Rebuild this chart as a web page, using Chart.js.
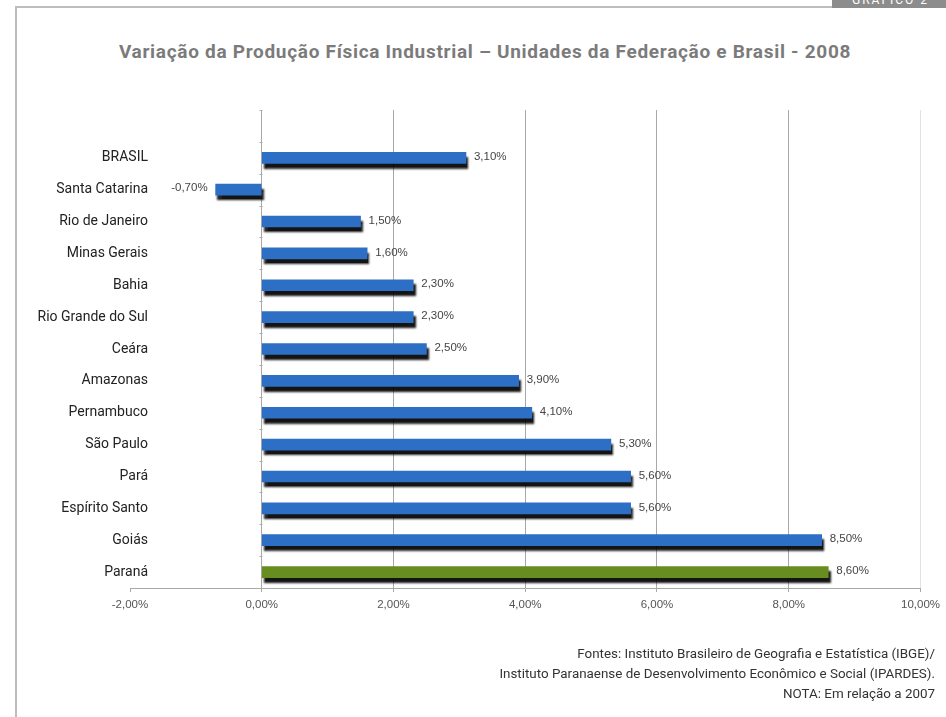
<!DOCTYPE html>
<html lang="pt-BR">
<head>
<meta charset="utf-8">
<title>Variação da Produção Física Industrial - 2008</title>
<script src="https://cdn.jsdelivr.net/npm/chart.js@4.4.1/dist/chart.umd.min.js"></script>
<style>
  html, body { margin: 0; padding: 0; background: #fff; }
  #wrap { position: relative; width: 946px; height: 717px; overflow: hidden; }
  #frameTop { position: absolute; left: 15px; top: 6px; width: 818px; height: 2px; background: #bdbdbd; }
  #frameLeft { position: absolute; left: 15px; top: 6px; width: 2px; height: 711px; background: #bdbdbd; }
  #tab { position: absolute; left: 832px; top: 0; width: 114px; height: 8px; background: #8c8c8c; overflow: hidden; }
  #tab span { position: absolute; left: 20px; top: -7px; color: #fff; font: 12px Roboto, sans-serif; letter-spacing: 2px; }
  #title { position: absolute; left: 0; width: 970px; top: 40px; text-align: center;
           font: bold 19px Roboto, sans-serif; color: #7b7b7b; letter-spacing: 0.7px; }
  #notes { position: absolute; right: 11px; top: 644px; text-align: right;
           font: 13.4px Roboto, sans-serif; color: #333; line-height: 20px; }
  canvas { position: absolute; left: 0; top: 0; }
</style>
</head>
<body>
<div id="wrap">
  <div id="frameTop"></div>
  <div id="frameLeft"></div>
  <div id="tab"><span>GRÁFICO 2</span></div>
  <div id="title">Variação da Produção Física Industrial – Unidades da Federação e Brasil - 2008</div>
  <canvas id="chart" width="946" height="717"></canvas>
  <div id="notes">
    Fontes: Instituto Brasileiro de Geografia e Estatística (IBGE)/<br>
    Instituto Paranaense de Desenvolvimento Econômico e Social (IPARDES).<br>
    NOTA: Em relação a 2007
  </div>
</div>
<script>
// categories top to bottom (first slot is empty in the original chart)
const states = ['', 'BRASIL', 'Santa Catarina', 'Rio de Janeiro', 'Minas Gerais', 'Bahia',
  'Rio Grande do Sul', 'Ceára', 'Amazonas', 'Pernambuco', 'São Paulo', 'Pará',
  'Espírito Santo', 'Goiás', 'Paraná'];
const variation = [null, 3.1, -0.7, 1.5, 1.6, 2.3, 2.3, 2.5, 3.9, 4.1, 5.3, 5.6, 5.6, 8.5, 8.6];
const xTicks = [-2, 0, 2, 4, 6, 8, 10];

const BLUE = '#2d6fc4';
const GREEN = '#678c1f';
const barColors = states.map(s => s === 'Paraná' ? GREEN : BLUE);

const fmt = v => v.toFixed(2).replace('.', ',') + '%';

// dark drop shadow under each bar, like the Excel original
const shadowPlugin = {
  id: 'barShadow',
  beforeDatasetsDraw(chart) {
    const ctx = chart.ctx;
    ctx.save();
    ctx.shadowColor = 'rgba(0,0,0,0.92)';
    ctx.shadowOffsetX = 2;
    ctx.shadowOffsetY = 5;
    ctx.shadowBlur = 2;
  },
  afterDatasetsDraw(chart) {
    chart.ctx.restore();
  }
};

// category names, value labels and small ticks on the zero line
const labelPlugin = {
  id: 'valueLabels',
  afterDraw(chart) {
    const ctx = chart.ctx;
    const meta = chart.getDatasetMeta(0);
    const xs = chart.scales.x, ys = chart.scales.y;
    ctx.save();
    ctx.textBaseline = 'middle';

    // category labels (they reach a little into the plot, as in the original)
    ctx.font = '14px Roboto, sans-serif';
    ctx.fillStyle = '#222';
    ctx.textAlign = 'right';
    states.forEach((s, i) => {
      if (s) ctx.fillText(s, xs.left + 18, ys.getPixelForValue(i));
    });

    ctx.font = '11.5px "Liberation Sans", Arial, sans-serif';
    ctx.fillStyle = '#444';
    meta.data.forEach((bar, i) => {
      const v = variation[i];
      if (v === null) return;
      if (v < 0) {
        ctx.textAlign = 'right';
        ctx.fillText(fmt(v), bar.x - 8, bar.y - 2);
      } else {
        ctx.textAlign = 'left';
        ctx.fillText(fmt(v), bar.x + 8, bar.y - 1);
      }
    });

    const x0 = Math.round(xs.getPixelForValue(0)) + 0.5;
    ctx.strokeStyle = '#aaa';
    ctx.lineWidth = 1;
    const step = (ys.bottom - ys.top) / states.length;
    for (let i = 0; i <= states.length; i++) {
      const y = Math.round(ys.top + i * step) + 0.5;
      ctx.beginPath();
      ctx.moveTo(x0 - 3, y);
      ctx.lineTo(x0, y);
      ctx.stroke();
    }
    ctx.restore();
  }
};

new Chart(document.getElementById('chart'), {
  type: 'bar',
  data: {
    labels: states,
    datasets: [{
      data: variation,
      backgroundColor: barColors,
      borderWidth: 0,
      barThickness: 11
    }]
  },
  options: {
    indexAxis: 'y',
    responsive: false,
    animation: false,
    layout: { padding: { top: 110, right: 20, bottom: 99, left: 0 } },
    plugins: {
      legend: { display: false },
      tooltip: { enabled: false },
      title: { display: false }
    },
    scales: {
      x: {
        min: -2,
        max: 10,
        afterBuildTicks: s => { s.ticks = xTicks.map(v => ({ value: v })); },
        afterFit: s => { s.height = 30; },
        grid: {
          color: c => c.tick && c.tick.value === -2 ? 'rgba(0,0,0,0)'
            : (c.tick && c.tick.value === 10 ? '#e2e2e2' : '#a8a8a8'),
          tickColor: '#a8a8a8',
          tickLength: 4
        },
        border: { display: true, color: '#a8a8a8' },
        ticks: {
          padding: 6,
          color: '#555',
          font: { family: '"Liberation Sans", Arial, sans-serif', size: 11.5 },
          callback: v => fmt(v)
        }
      },
      y: {
        afterFit: s => { s.width = 130; },
        grid: { display: false, drawTicks: false },
        border: { display: false },
        ticks: { display: false }
      }
    }
  },
  plugins: [shadowPlugin, labelPlugin]
});
</script>
</body>
</html>
